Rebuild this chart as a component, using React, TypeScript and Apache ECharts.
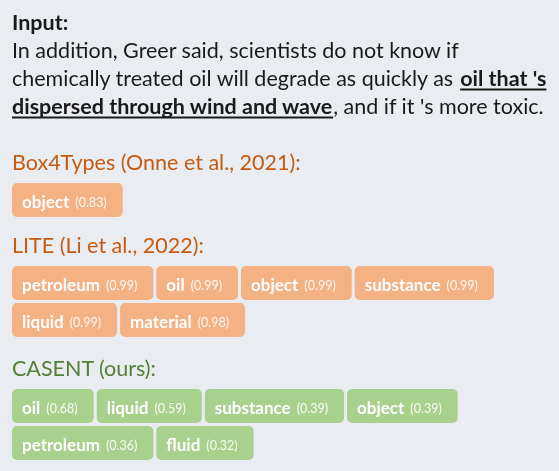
import React, { useEffect, useRef } from 'react';
import * as echarts from 'echarts';

// ---------- content ----------
const inputTitle = 'Input:';
const line1Parts = ['In addition, Greer said, scientists do not know if'];
const line1Bold = [false];
const line2Parts = ['chemically treated oil will degrade as quickly as ', "oil that 's"];
const line2Bold = [false, true];
const line3Parts = ['dispersed through wind and wave', ", and if it 's more toxic."];
const line3Bold = [true, false];

const modelNames = ['Box4Types (Onne et al., 2021):', 'LITE (Li et al., 2022):', 'CASENT (ours):'];

const box4Labels = ['object'];
const box4Scores = [0.83];
const liteLabels = ['petroleum', 'oil', 'object', 'substance', 'liquid', 'material'];
const liteScores = [0.99, 0.99, 0.99, 0.99, 0.99, 0.98];
const casentLabels = ['oil', 'liquid', 'substance', 'object', 'petroleum', 'fluid'];
const casentScores = [0.68, 0.59, 0.39, 0.39, 0.36, 0.32];

// ---------- style ----------
const W = 559;
const H = 471;
const BG = '#e9ecf1';
const FONT = 'Lato';
const TEXT_COLOR = '#1a1a1a';
const ORANGE_TEXT = '#c55a11';
const ORANGE_BOX = '#f4b183';
const GREEN_TEXT = '#538135';
const GREEN_BOX = '#a9d18e';

const ctx = document.createElement('canvas').getContext('2d') as CanvasRenderingContext2D;
function measure(text: string, size: number, bold: boolean) {
  ctx.font = `${bold ? 'bold ' : ''}${size}px ${FONT}`;
  return ctx.measureText(text).width;
}

export default function App() {
  const ref = useRef<HTMLDivElement>(null);
  useEffect(() => {
    if (!ref.current) return;
    const chart = echarts.init(ref.current, undefined, { renderer: 'svg' });
    const els: any[] = [];
    const LEFT = 12;
    const MAIN_SIZE = 21.5;

    els.push({ type: 'rect', shape: { x: 0, y: 0, width: W, height: H }, style: { fill: BG }, silent: true });

    els.push({
      type: 'text', x: LEFT, y: 22,
      style: { text: inputTitle, font: `bold ${MAIN_SIZE}px ${FONT}`, fill: TEXT_COLOR, textVerticalAlign: 'middle' },
    });

    const lines = [
      { parts: line1Parts, bold: line1Bold, y: 50 },
      { parts: line2Parts, bold: line2Bold, y: 78 },
      { parts: line3Parts, bold: line3Bold, y: 106 },
    ];
    lines.forEach((ln) => {
      let x = LEFT;
      ln.parts.forEach((p, i) => {
        const b = ln.bold[i];
        const w = measure(p, MAIN_SIZE, b);
        els.push({
          type: 'text', x, y: ln.y,
          style: { text: p, font: `${b ? 'bold ' : ''}${MAIN_SIZE}px ${FONT}`, fill: TEXT_COLOR, textVerticalAlign: 'middle' },
        });
        if (b) {
          els.push({
            type: 'line',
            shape: { x1: x, y1: ln.y + 11.5, x2: x + w, y2: ln.y + 11.5 },
            style: { stroke: TEXT_COLOR, lineWidth: 1.8 },
          });
        }
        x += w;
      });
    });

    const sections = [
      { name: modelNames[0], labels: box4Labels, scores: box4Scores, text: ORANGE_TEXT, box: ORANGE_BOX, headY: 162 },
      { name: modelNames[1], labels: liteLabels, scores: liteScores, text: ORANGE_TEXT, box: ORANGE_BOX, headY: 245 },
      { name: modelNames[2], labels: casentLabels, scores: casentScores, text: GREEN_TEXT, box: GREEN_BOX, headY: 368 },
    ];
    const HEAD_SIZE = 21.5;
    const WORD_SIZE = 17;
    const SCORE_SIZE = 12.5;
    const BOX_H = 34;
    const GAP = 3;
    const PAD_L = 10;
    const PAD_R = 16;
    const MAX_X = W - 10;

    sections.forEach((s) => {
      els.push({
        type: 'text', x: LEFT, y: s.headY,
        style: { text: s.name, font: `${HEAD_SIZE}px ${FONT}`, fill: s.text, textVerticalAlign: 'middle' },
      });
      let x = LEFT;
      let y = s.headY + 21;
      s.labels.forEach((lab, i) => {
        const scoreTxt = `(${s.scores[i].toFixed(2)})`;
        const ww = measure(lab, WORD_SIZE, true);
        const sp = 6;
        const sw = measure(scoreTxt, SCORE_SIZE, false);
        const bw = PAD_L + ww + sp + sw + PAD_R;
        if (x + bw > MAX_X && x > LEFT) {
          x = LEFT;
          y += BOX_H + GAP;
        }
        els.push({
          type: 'rect',
          shape: { x, y, width: bw, height: BOX_H, r: 5 },
          style: { fill: s.box },
        });
        const cy = y + BOX_H / 2 + 1;
        els.push({
          type: 'text', x: x + PAD_L, y: cy,
          style: { text: lab, font: `bold ${WORD_SIZE}px ${FONT}`, fill: '#ffffff', textVerticalAlign: 'middle' },
        });
        els.push({
          type: 'text', x: x + PAD_L + ww + sp, y: cy + 1.5,
          style: { text: scoreTxt, font: `${SCORE_SIZE}px ${FONT}`, fill: 'rgba(255,255,255,0.92)', textVerticalAlign: 'middle' },
        });
        x += bw + GAP;
      });
    });

    chart.setOption({ animation: false, graphic: { elements: els } });
    return () => chart.dispose();
  }, []);
  return <div ref={ref} style={{ position: 'fixed', left: 0, top: 0, width: W, height: H }} />;
}
